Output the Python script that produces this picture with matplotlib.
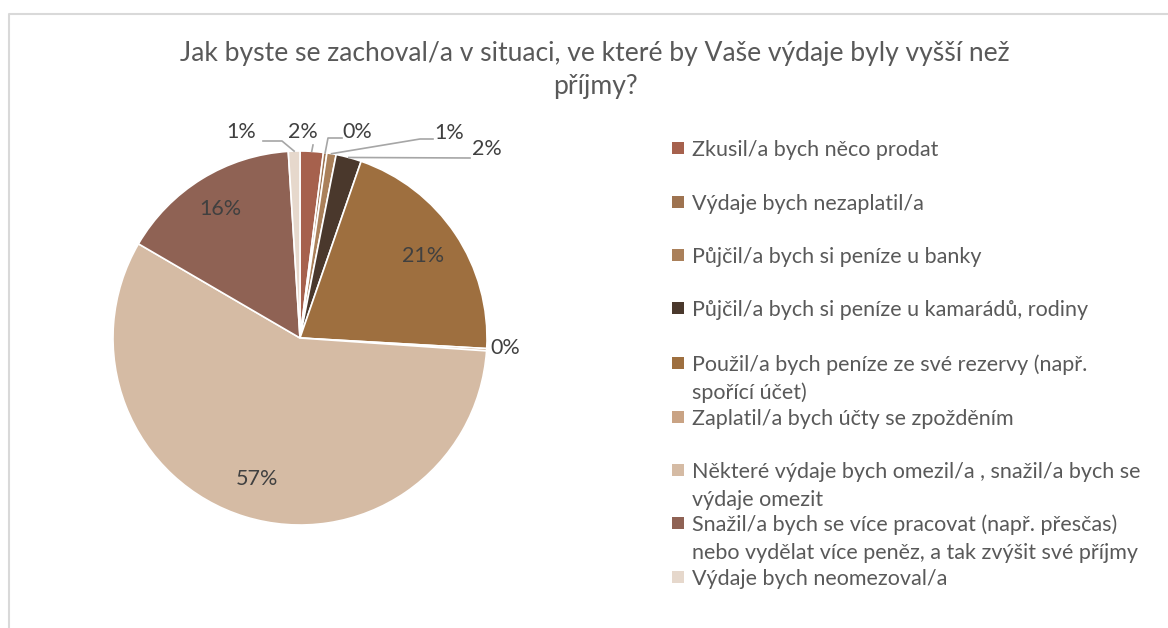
import matplotlib
matplotlib.use("Agg")
import matplotlib.pyplot as plt
import numpy as np
from matplotlib.patches import Rectangle
from matplotlib.lines import Line2D

title = "Jak byste se zachoval/a v situaci, ve které by Vaše výdaje byly vyšší než\npříjmy?"
categories = [
    "Zkusil/a bych něco prodat",
    "Výdaje bych nezaplatil/a",
    "Půjčil/a bych si peníze u banky",
    "Půjčil/a bych si peníze u kamarádů, rodiny",
    "Použil/a bych peníze ze své rezervy (např.\nspořící účet)",
    "Zaplatil/a bych účty se zpožděním",
    "Některé výdaje bych omezil/a , snažil/a bych se\nvýdaje omezit",
    "Snažil/a bych se více pracovat (např. přesčas)\nnebo vydělat více peněz, a tak zvýšit své příjmy",
    "Výdaje bych neomezoval/a",
]
values = [2.0, 0.3, 0.8, 2.2, 20.6, 0.2, 57.3, 15.6, 1.0]
colors = ["#A6614D", "#9E7350", "#AA805A", "#4A382C", "#9E6F3F",
          "#C9A384", "#D5BBA4", "#8F6254", "#E6D8CC"]

W, H = 1168, 628
fig = plt.figure(figsize=(W / 100, H / 100), dpi=100)
fig.patch.set_facecolor("white")

font = "Lato"
txt_col = "#595959"
lab_col = "#404040"

def fx(px):
    return px / W

def fy(py):
    return 1 - py / H

# border
fig.add_artist(Line2D([fx(9), fx(9), fx(1168)], [fy(628), fy(14), fy(14)],
                      transform=fig.transFigure, color="#D9D9D9", lw=1.5))

# title
fig.text(fx(595), fy(70), title, ha="center", va="center", fontsize=19.1,
         color=txt_col, family=font, linespacing=1.4)

# pie axes: center (300,338), radius 187 px
R = 187
half = 200
ax = fig.add_axes([fx(300 - half), fy(338 + half), 2 * half / W, 2 * half / H])

wedges, _ = ax.pie(values, colors=colors, startangle=90, counterclock=False,
                   radius=1.0, wedgeprops=dict(edgecolor="white", linewidth=1.2))
ax.set_xlim(-half / R, half / R)
ax.set_ylim(-half / R, half / R)
ax.set_aspect("equal")
ax.axis("off")

total = sum(values)
labels = ["{:.0f}%".format(v / total * 100) for v in values]

# inside labels
inside = {4: 0.79, 6: 0.79, 7: 0.81}
for i, r in inside.items():
    w = wedges[i]
    ang = np.deg2rad((w.theta1 + w.theta2) / 2)
    ax.text(r * np.cos(ang), r * np.sin(ang), labels[i], ha="center", va="center",
            fontsize=15.5, color=lab_col, family=font)

def p2d(px, py):
    return ((px - 300) / R, (338 - py) / R)

# outside labels: index -> (label pos px, leader polyline px after wedge point)
outside = {
    8: ((241, 132), [(282, 141), (263, 141)]),
    0: ((303, 132), [(313, 145)]),
    1: ((357, 132), [(328, 138), (342, 138)]),
    2: ((449, 133), [(420, 139), (433, 139)]),
    3: ((487, 149), [(470, 158)]),
    5: ((505, 348), None),
}
for i, (lp, path) in outside.items():
    w = wedges[i]
    ang = np.deg2rad((w.theta1 + w.theta2) / 2)
    x0, y0 = np.cos(ang), np.sin(ang)
    if path:
        pts = [(x0, y0)] + [p2d(*p) for p in path]
        xs, ys = zip(*pts)
        ax.plot(xs, ys, color="#A6A6A6", lw=1.2, clip_on=False)
    lx, ly = p2d(*lp)
    ax.text(lx, ly, labels[i], ha="center", va="center", fontsize=15.5,
            color=lab_col, family=font)

# legend
leg_y = [148, 202, 255, 308, 363, 417, 470, 523, 577]
line_gap = 28
for c, lab, yy in zip(colors, categories, leg_y):
    fig.add_artist(Rectangle((fx(672), fy(yy + 6)), 12 / W, 12 / H,
                             transform=fig.transFigure, facecolor=c, edgecolor="none"))
    for k, line in enumerate(lab.split("\n")):
        fig.text(fx(692), fy(yy + k * line_gap), line, ha="left", va="center_baseline",
                 fontsize=15.5, color=txt_col, family=font)

fig.savefig("out.png", dpi=100, facecolor="white")
